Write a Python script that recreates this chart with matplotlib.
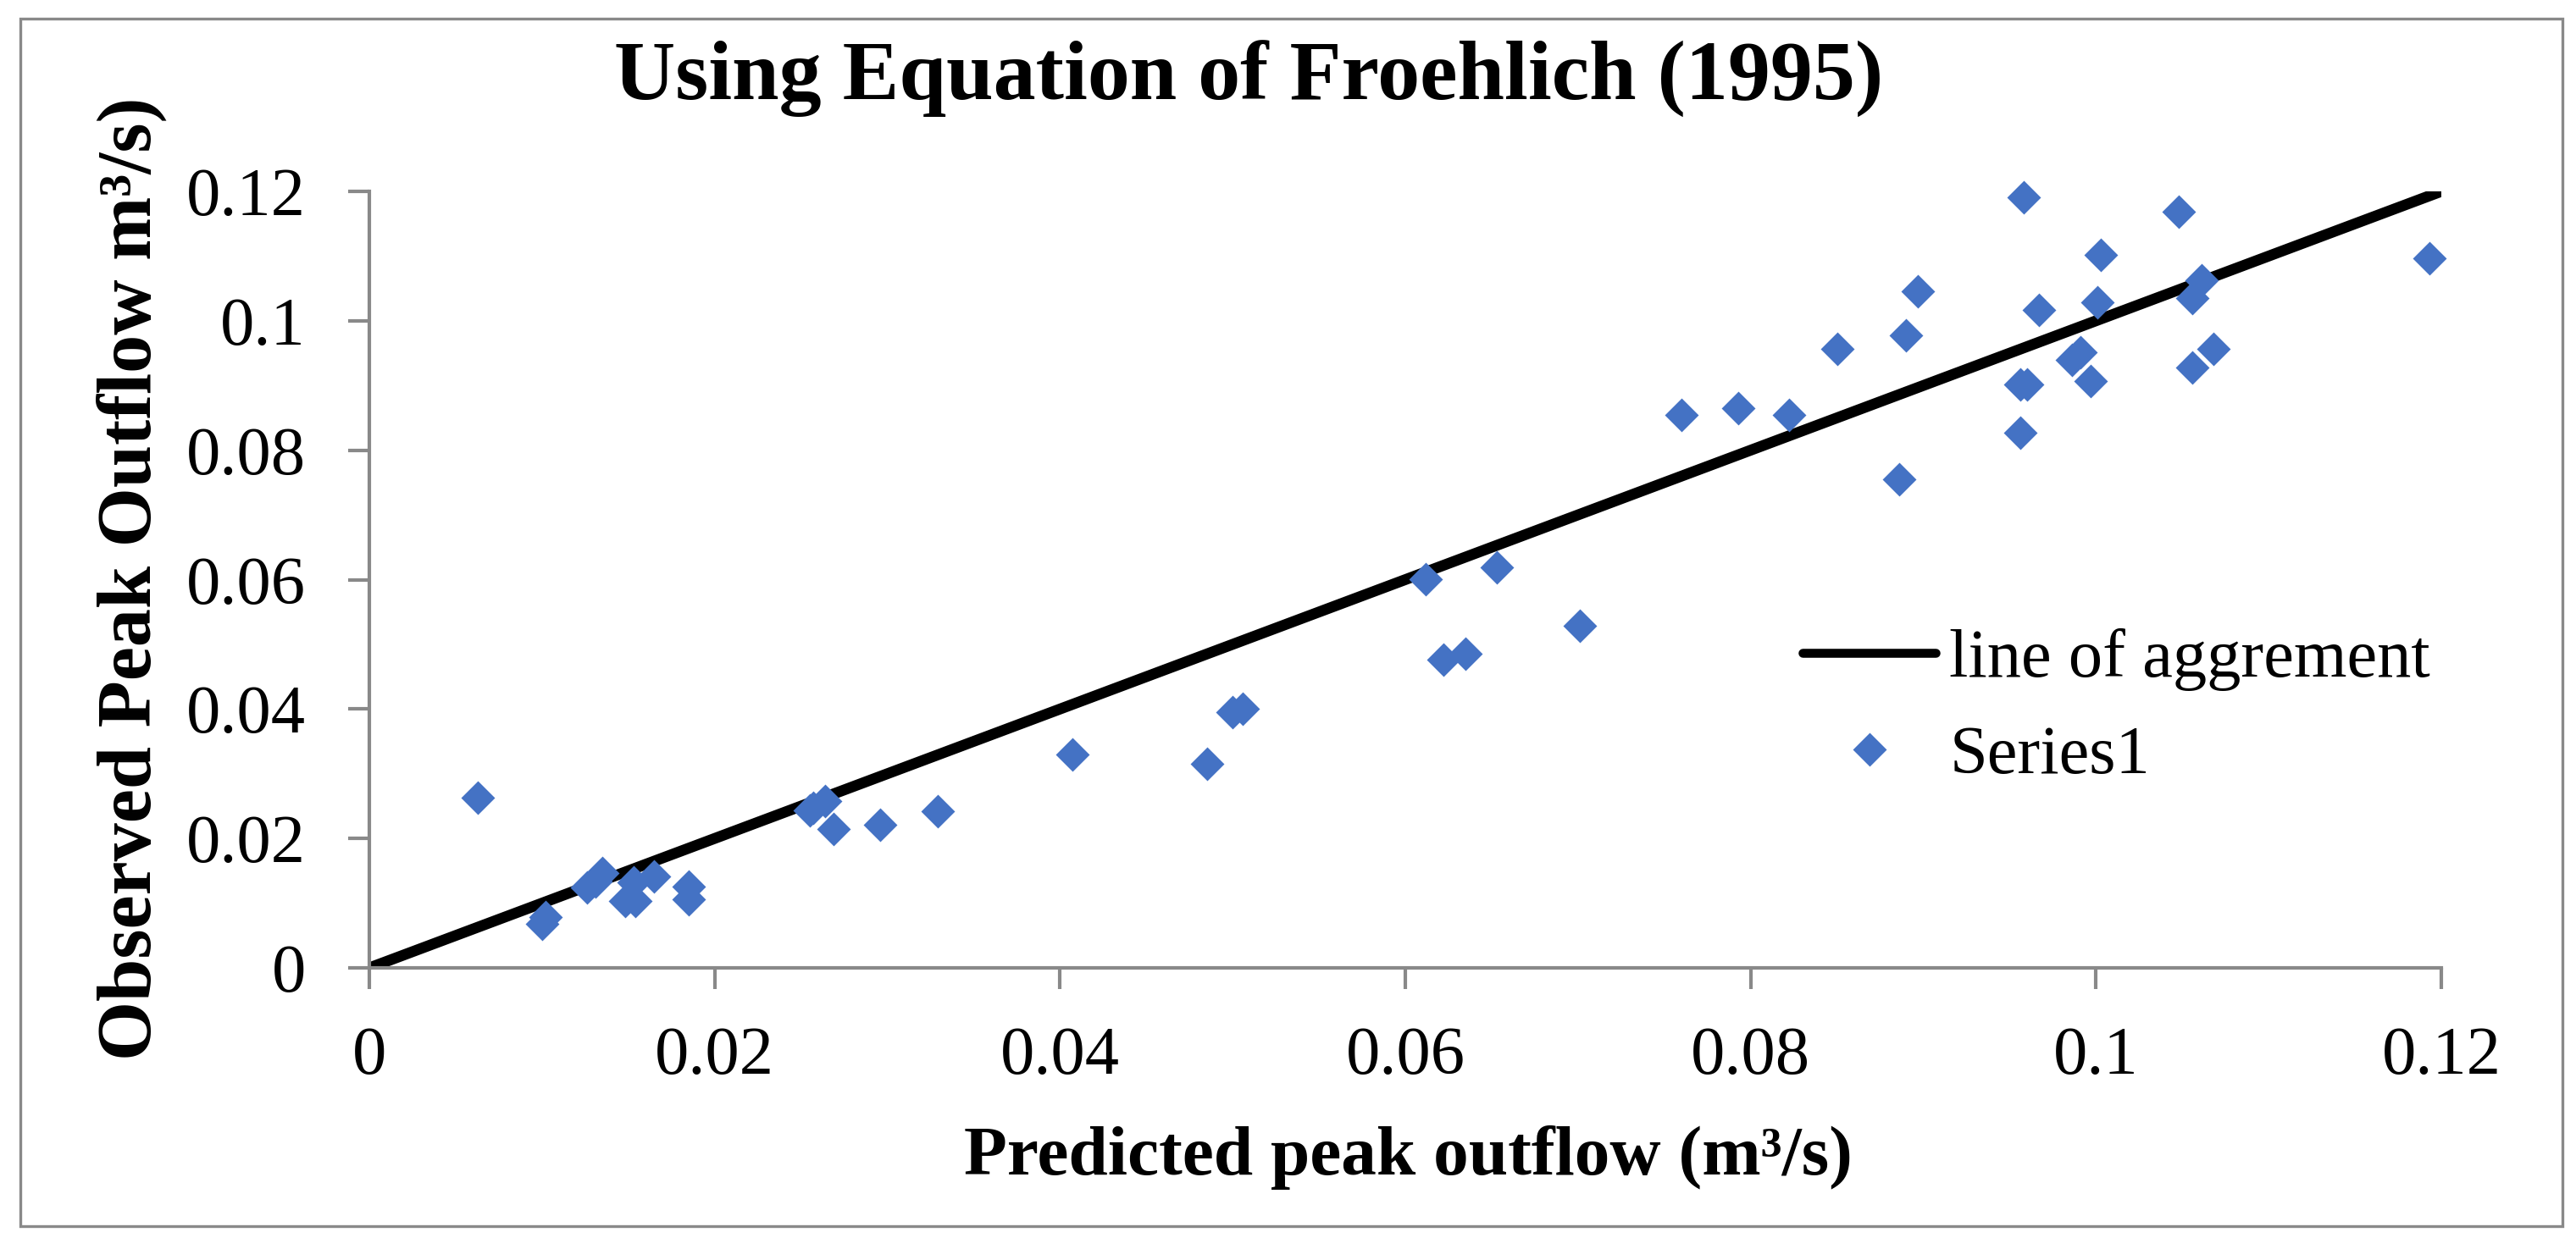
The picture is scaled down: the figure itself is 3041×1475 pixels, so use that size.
import numpy as np
import matplotlib
matplotlib.use('Agg')
import matplotlib.pyplot as plt
from matplotlib.patches import Rectangle

# predicted vs observed peak outflow (m3/s)
predicted = [0.0063, 0.0102, 0.0100, 0.0126, 0.0131, 0.0135, 0.0148, 0.0153, 0.0154, 0.0165,
             0.0185, 0.0185, 0.0255, 0.0257, 0.0264, 0.0269, 0.0296, 0.0329, 0.0407, 0.0485,
             0.0500, 0.0506, 0.0612, 0.0622, 0.0635, 0.0653, 0.0701, 0.0760, 0.0793, 0.0822,
             0.0850, 0.0886, 0.0890, 0.0897, 0.0956, 0.0956, 0.0960, 0.0958, 0.0967, 0.0986,
             0.0991, 0.0997, 0.1001, 0.1003, 0.1048, 0.1056, 0.1056, 0.1061, 0.1068, 0.1193]
observed = [0.0263, 0.0079, 0.0068, 0.0124, 0.0134, 0.0146, 0.0103, 0.0132, 0.0103, 0.0141,
            0.0125, 0.0106, 0.0243, 0.0247, 0.0258, 0.0215, 0.0221, 0.0242, 0.0330, 0.0316,
            0.0395, 0.0400, 0.0601, 0.0476, 0.0486, 0.0619, 0.0529, 0.0855, 0.0865, 0.0855,
            0.0956, 0.0755, 0.0978, 0.1046, 0.0827, 0.0902, 0.0902, 0.1191, 0.1017, 0.0939,
            0.0952, 0.0907, 0.1029, 0.1102, 0.1168, 0.1035, 0.0928, 0.1063, 0.0956, 0.1097]

agreement = [0, 0.12]
ticks = [0, 0.02, 0.04, 0.06, 0.08, 0.1, 0.12]
tick_labels = ['0', '0.02', '0.04', '0.06', '0.08', '0.1', '0.12']

plt.rcParams['font.family'] = ['Liberation Serif', 'DejaVu Serif']

W, H, DPI = 3041, 1475, 200
fig = plt.figure(figsize=(W / DPI, H / DPI), dpi=DPI)
ax = fig.add_axes([436 / W, 1 - 1143 / H, (2882 - 436) / W, (1143 - 226) / H])

grey = '#898989'
blue = '#4472C4'

ax.plot(agreement, agreement, color='black', lw=4.6, solid_capstyle='butt',
        label='line of aggrement', zorder=2)
ax.plot(predicted, observed, linestyle='none', marker='D', ms=9.4, color=blue,
        mec=blue, label='Series1', zorder=3, clip_on=False)

ax.set_xlim(0, 0.12)
ax.set_ylim(0, 0.12)
ax.set_xticks(ticks)
ax.set_xticklabels(tick_labels)
ax.set_yticks(ticks)
ax.set_yticklabels(tick_labels)

for s in ['top', 'right']:
    ax.spines[s].set_visible(False)
for s in ['left', 'bottom']:
    ax.spines[s].set_color(grey)
    ax.spines[s].set_linewidth(1.5)
ax.tick_params(direction='out', length=9, width=1.5, color=grey, labelsize=29)
ax.tick_params(axis='y', pad=18)
ax.tick_params(axis='x', pad=16)

fig.text(1474 / W, 1 - 93 / H, 'Using Equation of Froehlich (1995)', ha='center', va='center',
         fontsize=36, fontweight='bold')
fig.text(1662 / W, 1 - 1367 / H, 'Predicted peak outflow (m³/s)', ha='center', va='center',
         fontsize=30, fontweight='bold')
fig.text(155 / W, 1 - 683 / H, 'Observed Peak Outflow m³/s)', ha='center', va='center',
         rotation=90, fontsize=32.5, fontweight='bold')

leg = ax.legend(loc='upper left', bbox_to_anchor=(2128 / W, 1 - 742 / H),
                bbox_transform=fig.transFigure, frameon=False, fontsize=29,
                handlelength=1.95, handletextpad=0.2, labelspacing=0.5,
                borderaxespad=0, borderpad=0)
leg.get_lines()[0].set_solid_capstyle('round')
leg.get_lines()[0].set_linewidth(3.8)

fig.patches.append(Rectangle((24 / W, 1 - 1448 / H), (3025 - 24) / W, (1448 - 22) / H,
                             transform=fig.transFigure, fill=False, edgecolor=grey, lw=1.2))

fig.savefig('out.png', dpi=DPI)
